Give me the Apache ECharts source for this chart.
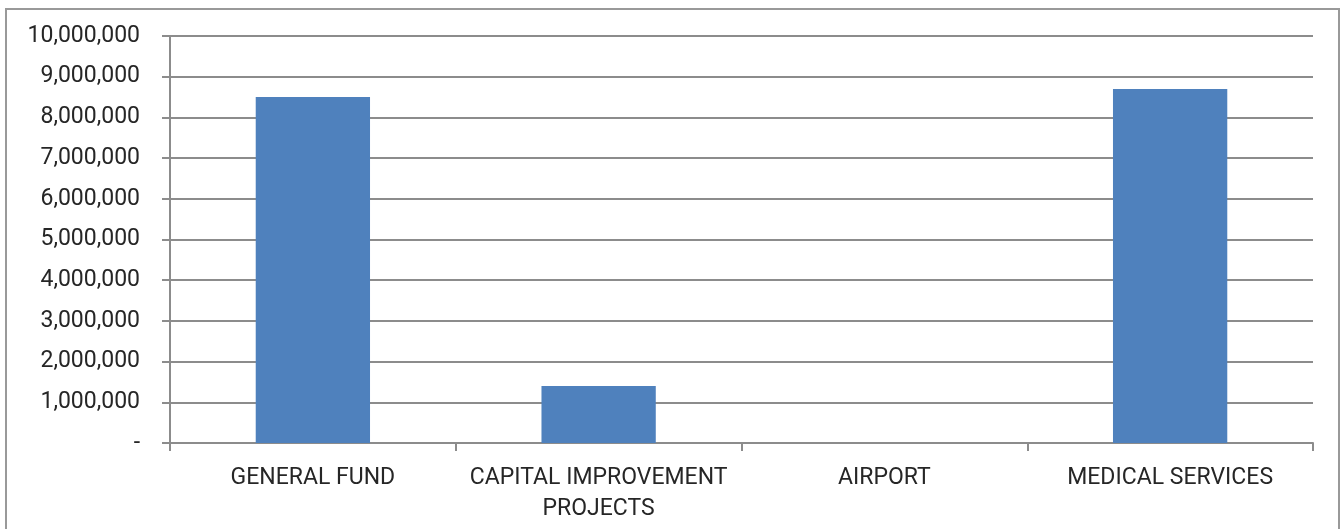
<!DOCTYPE html>
<html>
<head>
<meta charset="utf-8">
<script src="https://cdn.jsdelivr.net/npm/echarts@6/dist/echarts.min.js"></script>
<style>
  html, body { margin: 0; padding: 0; background: #fff; }
  #chart { width: 1341px; height: 529px; }
</style>
</head>
<body>
<div id="chart"></div>
<script>
// Fund categories and their amounts
const categories = ['GENERAL FUND', 'CAPITAL IMPROVEMENT\nPROJECTS', 'AIRPORT', 'MEDICAL SERVICES'];
const amounts = [8500000, 1400000, 0, 8700000];

// Value axis range
const yMin = 0;
const yMax = 10000000;
const yStep = 1000000;

const gray = '#8c8c8c';
const textColor = '#262626';
const fontFamily = 'Roboto, "Noto Sans", sans-serif';

function formatAmount(v) {
  if (v === 0) return '-';
  return String(v).replace(/\B(?=(\d{3})+(?!\d))/g, ',');
}

const chart = echarts.init(document.getElementById('chart'), null, { renderer: 'canvas' });
chart.setOption({
  animation: false,
  backgroundColor: '#fff',
  graphic: [{
    type: 'rect',
    shape: { x: 6, y: 9, width: 1333, height: 540 },
    style: { fill: 'none', stroke: '#999', lineWidth: 2 },
    silent: true,
    z: -1
  }],
  grid: { left: 170, right: 28, top: 36, bottom: 86, containLabel: false },
  xAxis: {
    type: 'category',
    data: categories,
    axisLine: { lineStyle: { color: gray, width: 2 } },
    axisTick: { show: true, length: 8, lineStyle: { color: gray, width: 2 } },
    axisLabel: {
      color: textColor, fontSize: 23, fontFamily: fontFamily,
      margin: 20, lineHeight: 31, interval: 0
    }
  },
  yAxis: {
    type: 'value',
    min: yMin, max: yMax, interval: yStep,
    axisLine: { show: true, lineStyle: { color: gray, width: 2 } },
    axisTick: { show: true, length: 8, lineStyle: { color: gray, width: 2 } },
    splitLine: { lineStyle: { color: gray, width: 2 } },
    axisLabel: {
      color: textColor, fontSize: 23, fontFamily: fontFamily,
      margin: 30, formatter: formatAmount
    }
  },
  series: [{
    type: 'bar',
    data: amounts,
    barWidth: '40%',
    itemStyle: { color: '#4f81bd' }
  }]
});
</script>
</body>
</html>
